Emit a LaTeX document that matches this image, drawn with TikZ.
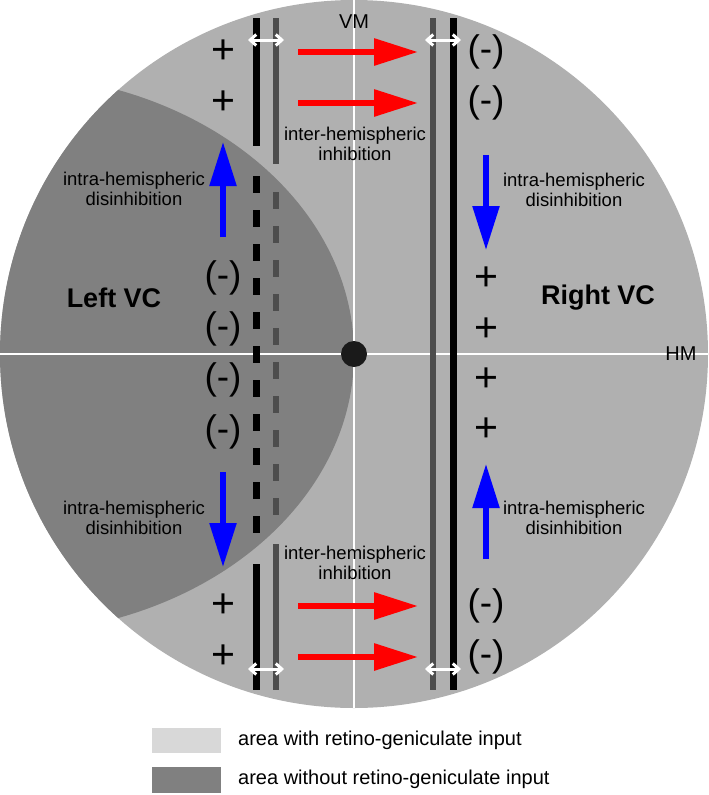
\documentclass[tikz,border=0pt]{standalone}
\usepackage{fontspec}
\setmainfont{Liberation Sans}
\usetikzlibrary{arrows.meta}
\definecolor{lightarea}{RGB}{176,176,176}
\definecolor{darkarea}{RGB}{128,128,128}
\definecolor{legendlight}{RGB}{216,216,216}
\definecolor{linegray}{RGB}{77,77,77}
\definecolor{dotblack}{RGB}{26,26,26}
\begin{document}
\begin{tikzpicture}[x=1pt,y=-1pt,
  blackline/.style={line width=7pt, black},
  grayline/.style={line width=6pt, linegray},
  dashblack/.style={blackline, dash pattern=on 17pt off 17pt},
  dashgray/.style={grayline, dash pattern=on 17pt off 17pt},
  redarrow/.style={line width=6pt, red, -{Triangle[length=44pt,width=26pt]}},
  bluearrow/.style={line width=5.5pt, blue, -{Triangle[length=44pt,width=26pt]}},
  gaparrow/.style={line width=3pt, white, {Straight Barb[length=6pt,width=11pt]}-{Straight Barb[length=6pt,width=11pt]}},
  lbl/.style={font=\fontsize{18.5}{20}\selectfont, align=center, inner sep=0pt},
  sign/.style={font=\fontsize{37}{37}\selectfont, inner sep=0pt},
  plussign/.style={font=\fontsize{41}{41}\selectfont, inner sep=0pt},
  vc/.style={font=\fontsize{27}{27}\selectfont\bfseries, inner sep=0pt},
  axislbl/.style={font=\fontsize{20}{20}\selectfont, inner sep=0pt},
  legtext/.style={font=\fontsize{20}{20}\selectfont, anchor=west, inner sep=0pt},
  axisline/.style={white, line width=2pt},
]
\useasboundingbox (0,0) rectangle (709,795);
% areas
\fill[lightarea] (354,354) circle (354);
\begin{scope}
  \clip (354,354) circle (354);
  \fill[darkarea] (0,354) ellipse [x radius=354, y radius=280];
\end{scope}
% meridians
\coordinate (vmtop) at (354,0);
\coordinate (vmbot) at (354,708);
\coordinate (hmleft) at (0,354);
\coordinate (hmright) at (708,354);
\draw[axisline] (vmtop) -- (vmbot);
\draw[axisline] (hmleft) -- (hmright);
\node[circle, fill=dotblack, minimum size=26pt, inner sep=0pt] (fix) at (354,354) {};
% left borders
\coordinate (lb1) at (256,18);  \coordinate (lb2) at (256,146);
\coordinate (lg1) at (276,18);  \coordinate (lg2) at (276,164);
\coordinate (lbd1) at (256,176); \coordinate (lbd2) at (256,533);
\coordinate (lgd1) at (276,192); \coordinate (lgd2) at (276,516);
\coordinate (lb3) at (256,564); \coordinate (lb4) at (256,690);
\coordinate (lg3) at (276,544); \coordinate (lg4) at (276,690);
\draw[blackline] (lb1) -- (lb2);
\draw[grayline] (lg1) -- (lg2);
\draw[dashblack] (lbd1) -- (lbd2);
\draw[dashgray] (lgd1) -- (lgd2);
\draw[blackline] (lb3) -- (lb4);
\draw[grayline] (lg3) -- (lg4);
% right borders
\coordinate (rg1) at (433,18); \coordinate (rg2) at (433,690);
\coordinate (rb1) at (453,18); \coordinate (rb2) at (453,690);
\draw[grayline] (rg1) -- (rg2);
\draw[blackline] (rb1) -- (rb2);
% gap arrows
\coordinate (ga1) at (248,40); \coordinate (ga2) at (284,40);
\coordinate (ga3) at (425,40); \coordinate (ga4) at (461,40);
\coordinate (ga5) at (248,669); \coordinate (ga6) at (284,669);
\coordinate (ga7) at (425,669); \coordinate (ga8) at (461,669);
\draw[gaparrow] (ga1) -- (ga2);
\draw[gaparrow] (ga3) -- (ga4);
\draw[gaparrow] (ga5) -- (ga6);
\draw[gaparrow] (ga7) -- (ga8);
% red arrows
\coordinate (ra1) at (298,52);  \coordinate (rb1e) at (418,52);
\coordinate (ra2) at (298,103); \coordinate (rb2e) at (418,103);
\coordinate (ra3) at (298,606); \coordinate (rb3e) at (418,606);
\coordinate (ra4) at (298,657); \coordinate (rb4e) at (418,657);
\draw[redarrow] (ra1) -- (rb1e);
\draw[redarrow] (ra2) -- (rb2e);
\draw[redarrow] (ra3) -- (rb3e);
\draw[redarrow] (ra4) -- (rb4e);
% blue arrows
\coordinate (bl1s) at (223,237); \coordinate (bl1e) at (223,142);
\coordinate (bl2s) at (223,472); \coordinate (bl2e) at (223,567);
\coordinate (br1s) at (486,155); \coordinate (br1e) at (486,250);
\coordinate (br2s) at (486,559); \coordinate (br2e) at (486,464);
\draw[bluearrow] (bl1s) -- (bl1e);
\draw[bluearrow] (bl2s) -- (bl2e);
\draw[bluearrow] (br1s) -- (br1e);
\draw[bluearrow] (br2s) -- (br2e);
% signs
\node[plussign] (lp1) at (223,52) {+};
\node[plussign] (lp2) at (223,103) {+};
\node[plussign] (lp3) at (223,606) {+};
\node[plussign] (lp4) at (223,657) {+};
\node[sign] (rm1) at (486,52) {(-)};
\node[sign] (rm2) at (486,103) {(-)};
\node[sign] (rm3) at (486,606) {(-)};
\node[sign] (rm4) at (486,657) {(-)};
\node[sign] (lm1) at (223,278) {(-)};
\node[sign] (lm2) at (223,329) {(-)};
\node[sign] (lm3) at (223,380) {(-)};
\node[sign] (lm4) at (223,432) {(-)};
\node[plussign] (rp1) at (486,279) {+};
\node[plussign] (rp2) at (486,330) {+};
\node[plussign] (rp3) at (486,380) {+};
\node[plussign] (rp4) at (486,430) {+};
% labels
\node[vc] (leftvc) at (114,298) {Left VC};
\node[vc] (rightvc) at (598,298) {Right VC};
\node[axislbl] (vm) at (354,22) {VM};
\node[axislbl] (hm) at (681,354) {HM};
\node[lbl] (inter1) at (355,144) {inter-hemispheric\\inhibition};
\node[lbl] (inter2) at (355,563) {inter-hemispheric\\inhibition};
\node[lbl] (intraL1) at (134,189) {intra-hemispheric\\disinhibition};
\node[lbl] (intraL2) at (134,518) {intra-hemispheric\\disinhibition};
\node[lbl] (intraR1) at (574,190) {intra-hemispheric\\disinhibition};
\node[lbl] (intraR2) at (574,518) {intra-hemispheric\\disinhibition};
% legend
\fill[legendlight] (152,728) rectangle (221,753);
\fill[darkarea] (152,767) rectangle (221,793);
\node[legtext] (leg1) at (238,740) {area with retino-geniculate input};
\node[legtext] (leg2) at (238,779) {area without retino-geniculate input};
\end{tikzpicture}
\end{document}
